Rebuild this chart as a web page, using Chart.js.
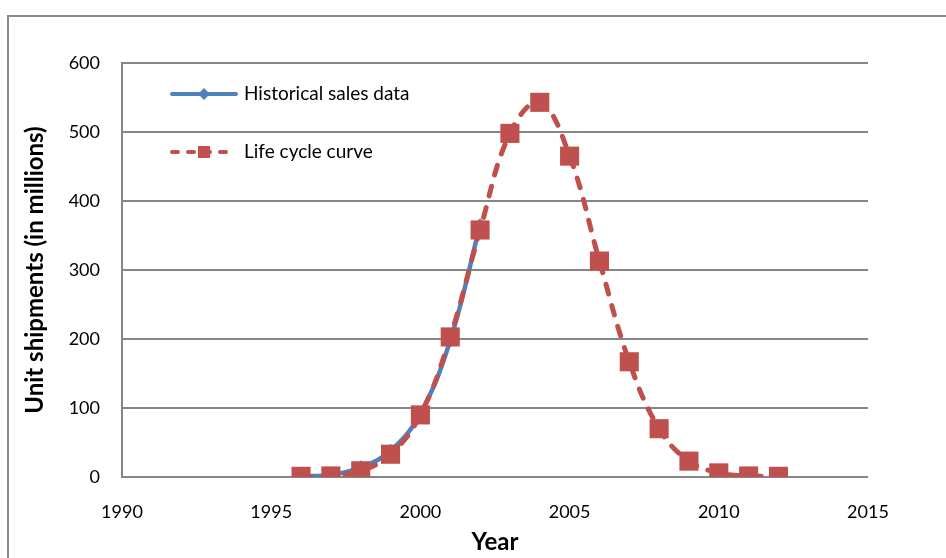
<!DOCTYPE html>
<html>
<head>
<meta charset="utf-8">
<script src="https://cdn.jsdelivr.net/npm/chart.js@4.4.1/dist/chart.umd.min.js"></script>
<style>
  html, body { margin: 0; padding: 0; background: #fff; overflow: hidden; }
  #wrap { position: relative; width: 946px; height: 558px; }
  #frame { position: absolute; left: 7px; top: 15px; width: 1000px; height: 600px;
           border-left: 2px solid #898989; border-top: 2px solid #898989; }
  canvas { position: absolute; left: 0; top: 0; }
</style>
</head>
<body>
<div id="wrap">
  <div id="frame"></div>
  <canvas id="c" width="946" height="558"></canvas>
</div>
<script>
// Years covered by the two series
const years = [1996, 1997, 1998, 1999, 2000, 2001, 2002, 2003, 2004,
               2005, 2006, 2007, 2008, 2009, 2010, 2011, 2012];
const historicalYears = [1996, 1997, 1998, 1999, 2000, 2001, 2002];

// Unit shipments, millions
const historicalSales = [1, 3, 14, 38, 92, 198, 365];
const lifeCycle = [1, 1.5, 9, 33, 90, 203, 358, 498, 543, 465, 313, 167, 70, 23, 6, 1.5, 1];

const xTicks = [1990, 1995, 2000, 2005, 2010, 2015];
const yTicks = [0, 100, 200, 300, 400, 500, 600];

const seriesNames = ['Historical sales data', 'Life cycle curve'];

const BLUE = '#4F81BD';
const RED = '#C0504D';
const GRID = '#868686';
const FONT = 'Lato, "Open Sans", sans-serif';

const toPoints = (xs, ys) => xs.map((x, i) => ({ x, y: ys[i] }));

// Legend drawn inside the plot area, top-left
const innerLegend = {
  id: 'innerLegend',
  afterDatasetsDraw(chart) {
    const ctx = chart.ctx;
    const rows = [
      { label: seriesNames[0], color: BLUE, dash: [], y: 94, marker: 'diamond' },
      { label: seriesNames[1], color: RED, dash: [6, 10], y: 152, marker: 'square' }
    ];
    ctx.save();
    rows.forEach(r => {
      ctx.strokeStyle = r.color;
      ctx.lineWidth = 4;
      ctx.lineCap = 'round';
      ctx.setLineDash(r.dash);
      ctx.beginPath();
      ctx.moveTo(172, r.y);
      ctx.lineTo(236, r.y);
      ctx.stroke();
      ctx.setLineDash([]);
      ctx.fillStyle = r.color;
      const cx = 204;
      if (r.marker === 'diamond') {
        ctx.beginPath();
        ctx.moveTo(cx, r.y - 6); ctx.lineTo(cx + 6, r.y);
        ctx.lineTo(cx, r.y + 6); ctx.lineTo(cx - 6, r.y);
        ctx.closePath(); ctx.fill();
      } else {
        ctx.fillRect(cx - 6, r.y - 6, 12, 12);
      }
      ctx.fillStyle = '#000';
      ctx.font = '19px ' + FONT;
      ctx.textAlign = 'left';
      ctx.textBaseline = 'middle';
      ctx.fillText(r.label, 244, r.y);
    });
    ctx.restore();
  }
};

new Chart(document.getElementById('c'), {
  type: 'scatter',
  data: {
    datasets: [
      {
        label: seriesNames[1],
        data: toPoints(years, lifeCycle),
        showLine: true,
        order: 0,
        borderColor: RED,
        backgroundColor: RED,
        borderWidth: 5,
        borderDash: [10, 12],
        borderCapStyle: 'round',
        tension: 0.4,
        pointStyle: 'rect',
        pointRadius: 13.5,
        pointBorderWidth: 0,
        pointBackgroundColor: RED
      },
      {
        label: seriesNames[0],
        data: toPoints(historicalYears, historicalSales),
        showLine: true,
        order: 1,
        borderColor: BLUE,
        backgroundColor: BLUE,
        borderWidth: 4.5,
        tension: 0.4,
        pointStyle: 'rectRot',
        pointRadius: 7,
        pointBorderWidth: 0,
        pointBackgroundColor: BLUE
      }
    ]
  },
  options: {
    responsive: false,
    animation: false,
    events: [],
    layout: { padding: { left: 0, top: 63, right: 78, bottom: 0 } },
    plugins: {
      legend: { display: false },
      tooltip: { enabled: false }
    },
    scales: {
      x: {
        type: 'linear',
        min: 1990,
        max: 2015,
        afterFit(scale) { scale.height = 81; },
        afterBuildTicks(scale) { scale.ticks = xTicks.map(v => ({ value: v })); },
        grid: { display: false, drawTicks: false },
        border: { display: false },
        ticks: {
          padding: 24,
          color: '#000',
          font: { family: FONT, size: 18 },
          maxRotation: 0,
          callback: v => String(v)
        },
        title: {
          display: true,
          text: 'Year',
          color: '#000',
          font: { family: FONT, size: 24, weight: 'bold' },
          padding: { top: 1, bottom: 1 }
        }
      },
      y: {
        min: 0,
        max: 600,
        afterFit(scale) { scale.width = 122; },
        afterBuildTicks(scale) { scale.ticks = yTicks.map(v => ({ value: v })); },
        grid: { color: GRID, lineWidth: 2, drawTicks: false },
        border: { display: true, color: GRID, width: 2 },
        ticks: {
          padding: 22,
          color: '#000',
          font: { family: FONT, size: 18 },
          callback: v => String(v)
        },
        title: {
          display: true,
          text: 'Unit shipments (in millions)',
          color: '#000',
          font: { family: FONT, size: 24, weight: 'bold' },
          padding: { top: 21, bottom: 0 }
        }
      }
    }
  },
  plugins: [innerLegend]
});
</script>
</body>
</html>
